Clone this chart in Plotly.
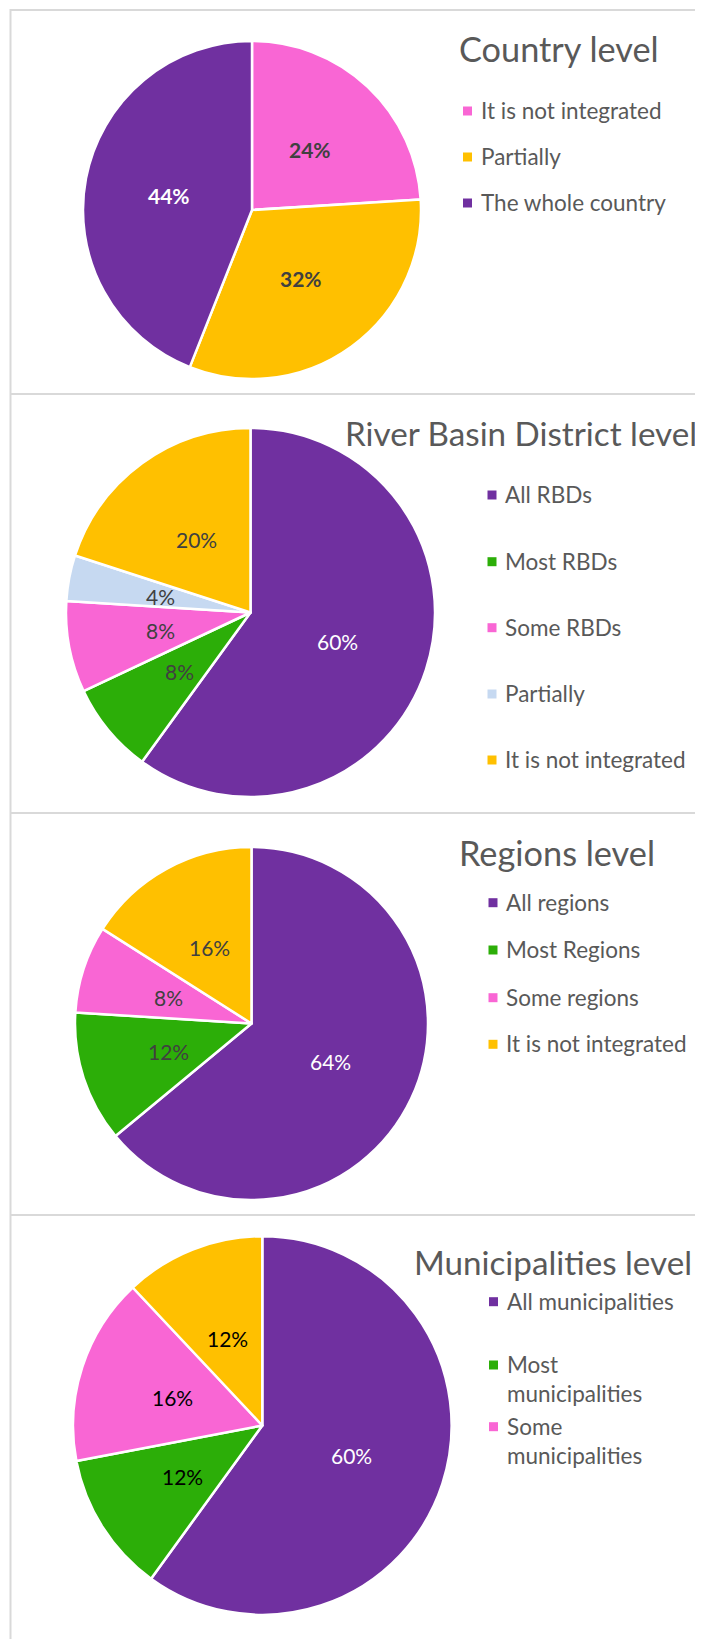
import math
import plotly.graph_objects as go

W, H = 703, 1639
OFF = 8  # page body margin offset of the plot inside the browser window

# ---------------- data ----------------
country_labels = ["It is not integrated", "Partially", "The whole country"]
country_values = [24, 32, 44]

rbd_labels = ["All RBDs", "Most RBDs", "Some RBDs", "Partially", "It is not integrated"]
rbd_values = [60, 8, 8, 4, 20]

region_labels = ["All regions", "Most Regions", "Some regions", "It is not integrated"]
region_values = [64, 12, 8, 16]

muni_labels = ["All municipalities", "Most municipalities", "Some municipalities", "It is not integrated"]
muni_values = [60, 12, 16, 12]

titles = ["Country level", "River Basin District level", "Regions level", "Municipalities level"]

# ---------------- styles ----------------
PURPLE = "#7030A0"
PINK = "#F966D4"
YELLOW = "#FFC000"
GREEN = "#2CAE08"
LBLUE = "#C6D9F1"
GREY_TXT = "#595959"
DARK = "#404040"
FONT = "Lato"

panels = [
    dict(labels=country_labels, values=country_values,
         colors=[PINK, YELLOW, PURPLE], tcolors=[DARK, DARK, "white"], bold=True,
         cx=252, cy=210, r=169,
         title_xy=(457, 48), title_size=34.3,
         leg_x=467.5, leg_y=[111, 157, 203], leg_n=3, wrap=False),
    dict(labels=rbd_labels, values=rbd_values,
         colors=[PURPLE, GREEN, PINK, LBLUE, YELLOW], tcolors=["white", DARK, DARK, DARK, DARK], bold=False,
         cx=250.5, cy=612.5, r=184.5,
         title_xy=(343, 432.5), title_size=33.2,
         leg_x=492, leg_y=[495, 561.7, 627.7, 694, 760], leg_n=5, wrap=False),
    dict(labels=region_labels, values=region_values,
         colors=[PURPLE, GREEN, PINK, YELLOW], tcolors=["white", DARK, DARK, DARK], bold=False,
         cx=251.5, cy=1023.5, r=176.5,
         title_xy=(457, 852.5), title_size=34.3,
         leg_x=493, leg_y=[902.7, 950, 997.7, 1044.3], leg_n=4, wrap=False),
    dict(labels=muni_labels, values=muni_values,
         colors=[PURPLE, GREEN, PINK, YELLOW], tcolors=["white", "black", "black", "black"], bold=False,
         cx=262.3, cy=1425.5, r=189.3,
         title_xy=(412, 1261.7), title_size=33.2,
         leg_x=493.5, leg_y=[1301.7, 1365, 1426.7], leg_n=3, wrap=True),
]


def px(x):
    return (x - OFF) / W


def py(y):
    return 1 - (y - OFF) / H


fig = go.Figure()
shapes = []
annotations = []

for i, p in enumerate(panels):
    fig.add_trace(go.Pie(
        labels=p["labels"], values=p["values"],
        sort=False, direction="clockwise", rotation=0,
        marker=dict(colors=p["colors"], line=dict(color="white", width=2.5)),
        textinfo="none",
        domain=dict(x=[px(p["cx"] - p["r"]), px(p["cx"] + p["r"])],
                    y=[py(p["cy"] + p["r"]), py(p["cy"] - p["r"])]),
        showlegend=False,
        hoverinfo="label+percent",
    ))
    # percentage labels at half radius along each slice's mid-angle
    total = float(sum(p["values"]))
    cum = 0.0
    rl = 0.5 * (p["r"] - 1)
    for j, v in enumerate(p["values"]):
        mid = math.radians(360.0 * (cum + v / 2.0) / total)
        cum += v
        lx = p["cx"] + rl * math.sin(mid)
        ly = p["cy"] - rl * math.cos(mid)
        annotations.append(dict(
            text=f"{round(100 * v / total)}%", x=px(lx), y=py(ly + 1),
            xref="paper", yref="paper", xanchor="center", yanchor="middle",
            showarrow=False,
            font=dict(family=FONT, size=21, color=p["tcolors"][j],
                      weight="bold" if p["bold"] else "normal")))
    # title
    tx, ty = p["title_xy"]
    annotations.append(dict(
        text=titles[i], x=px(tx), y=py(ty), xref="paper", yref="paper",
        xanchor="left", yanchor="middle", showarrow=False,
        font=dict(family=FONT, size=p["title_size"], color=GREY_TXT)))
    # legend
    for j in range(p["leg_n"]):
        lab = p["labels"][j]
        yc = p["leg_y"][j]
        txt = lab.replace(" ", "<br>", 1) if p["wrap"] and j > 0 else lab
        shapes.append(dict(type="rect", xref="paper", yref="paper",
                           x0=px(p["leg_x"] - 4.5), x1=px(p["leg_x"] + 4.5),
                           y0=py(yc + 4.5), y1=py(yc - 4.5),
                           fillcolor=p["colors"][j], line=dict(width=0)))
        annotations.append(dict(
            text=txt, x=px(p["leg_x"] + 11), y=py(yc - 16), xref="paper", yref="paper",
            xanchor="left", yanchor="top", align="left", showarrow=False,
            font=dict(family=FONT, size=22.5, color=GREY_TXT)))

# panel frames
BORDER = "#D9D9D9"
for yline in [10, 394, 813, 1215]:
    shapes.append(dict(type="line", xref="paper", yref="paper",
                       x0=px(10), x1=1.0, y0=py(yline), y1=py(yline),
                       line=dict(color=BORDER, width=2)))
shapes.append(dict(type="line", xref="paper", yref="paper",
                   x0=px(10.5), x1=px(10.5), y0=py(9), y1=0,
                   line=dict(color=BORDER, width=2)))

fig.update_layout(
    width=W, height=H,
    margin=dict(l=0, r=0, t=0, b=0),
    paper_bgcolor="white", plot_bgcolor="white",
    shapes=shapes, annotations=annotations,
    font=dict(family=FONT, color=GREY_TXT),
)

fig.write_html("out.html")
